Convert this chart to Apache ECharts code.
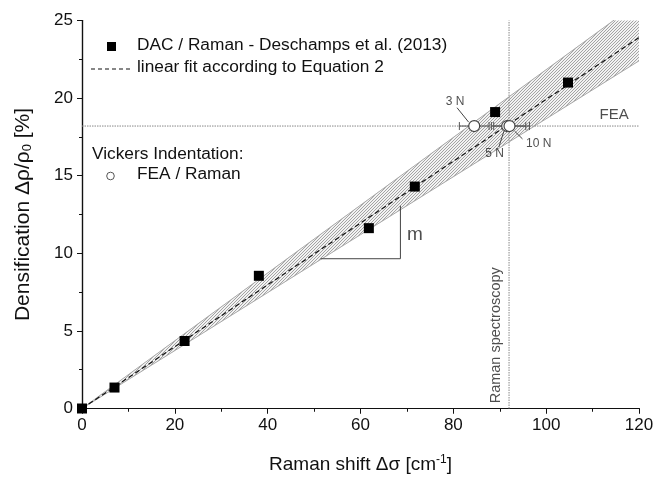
<!DOCTYPE html>
<html>
<head>
<meta charset="utf-8">
<script src="https://cdn.jsdelivr.net/npm/echarts@6/dist/echarts.min.js"></script>
<style>
  html, body { margin: 0; padding: 0; background: #fff; }
  #chart { width: 666px; height: 479px; }
</style>
</head>
<body>
<div id="chart"></div>
<script>
// DAC / Raman measurements (Raman shift [cm^-1], densification [%])
const dacPoints = [[0, 0], [7.0, 1.35], [22.1, 4.35], [38.1, 8.55], [61.8, 11.62], [71.7, 14.3], [89.0, 19.1], [104.7, 21.0]];

// Linear fit and its uncertainty band
const fitLine = [[0, 0], [120, 23.9]];
const bandLower = [[0, 0], [120, 22.4]];
const bandUpper = [[0, 0], [120, 26.2]];

// Vickers indentation: FEA densification vs. Raman shift, with horizontal error bars
const indentLoads = ['3 N', '5 N', '10 N'];
const indentShift = [84.5, 91.6, 92.1];
const indentShiftLow = [81.3, 88.2, 88.7];
const indentShiftHigh = [87.7, 95.6, 96.4];
const indentDensification = [18.2, 18.2, 18.2];

// Reference lines: FEA level and Raman spectroscopy shift
const feaLevel = 18.2;
const ramanShift = 92;

// Slope triangle
const slopeTriangle = [[51.4, 9.65], [68.6, 9.65], [68.6, 13.06]];

// Axis ranges / ticks
const xMin = 0, xMax = 120, xStep = 20;
const yMin = 0, yMax = 25, yStep = 5;

// Annotation texts and leader lines
const loadLabelPos = [[80.4, 19.8], [88.9, 16.4], [98.4, 17.07]];
const loadLeaders = [
  [[80.8, 19.38], [83.3, 18.45]],
  [[89.8, 16.84], [90.9, 17.87]],
  [[94.9, 17.37], [93.2, 17.87]]
];

const FONT = '"Liberation Sans", Arial, sans-serif';

// hatch pattern for the fit band
function makeHatch() {
  const c = document.createElement('canvas');
  c.width = 3; c.height = 3;
  const g = c.getContext('2d');
  g.fillStyle = '#f2f2f2';
  g.fillRect(0, 0, 3, 3);
  g.strokeStyle = '#9a9a9a';
  g.lineWidth = 0.9;
  g.beginPath();
  g.moveTo(-1, 4); g.lineTo(4, -1);
  g.moveTo(-1, 1); g.lineTo(1, -1);
  g.moveTo(2, 4); g.lineTo(4, 2);
  g.stroke();
  return c;
}
const hatch = makeHatch();

const chart = echarts.init(document.getElementById('chart'), null, { renderer: 'canvas' });

const indentData = indentShift.map((x, i) => [x, indentDensification[i], indentShiftLow[i], indentShiftHigh[i]]);

const axisCommon = {
  axisLine: { show: true, lineStyle: { color: '#111', width: 1.2 } },
  splitLine: { show: false }
};

const option = {
  animation: false,
  backgroundColor: '#fff',
  grid: { left: 82, right: 27, top: 20.5, bottom: 69, containLabel: false },
  xAxis: [
    Object.assign({}, axisCommon, {
      type: 'value', min: xMin, max: xMax, interval: xStep, position: 'bottom',
      axisTick: { show: true, inside: false, length: 5, lineStyle: { color: '#111' } },
      minorTick: { show: true, splitNumber: 2, length: 3, lineStyle: { color: '#111' } },
      axisLabel: { color: '#111', fontSize: 17, fontFamily: FONT, margin: 8 },
      name: '{n|Raman shift Δσ [cm}{s|-1}{n|]}',
      nameLocation: 'middle', nameGap: 45,
      nameTextStyle: {
        rich: {
          n: { fontSize: 19, fontFamily: FONT, color: '#111' },
          s: { fontSize: 12, fontFamily: FONT, color: '#111', verticalAlign: 'top', padding: [0, 0, 10, 0] }
        }
      }
    }),
    Object.assign({}, axisCommon, {
      type: 'value', min: xMin, max: xMax, interval: xStep, position: 'top',
      axisTick: { show: true, inside: true, length: 5, lineStyle: { color: '#111' } },
      minorTick: { show: true, splitNumber: 2, length: 3, lineStyle: { color: '#111' } },
      axisLabel: { show: false }
    })
  ],
  yAxis: [
    Object.assign({}, axisCommon, {
      type: 'value', min: yMin, max: yMax, interval: yStep, position: 'left',
      axisTick: { show: true, inside: false, length: 5, lineStyle: { color: '#111' } },
      minorTick: { show: true, splitNumber: 2, length: 3, lineStyle: { color: '#111' } },
      axisLabel: { color: '#111', fontSize: 17, fontFamily: FONT, margin: 9 },
      name: '{n|Densification Δρ/ρ}{s|0}{n| [%]}',
      nameLocation: 'middle', nameGap: 48,
      nameTextStyle: {
        rich: {
          n: { fontSize: 21, fontFamily: FONT, color: '#111' },
          s: { fontSize: 13, fontFamily: FONT, color: '#111', padding: [9, 0, 0, 0] }
        }
      }
    }),
    Object.assign({}, axisCommon, {
      type: 'value', min: yMin, max: yMax, interval: yStep, position: 'right',
      axisTick: { show: true, inside: true, length: 5, lineStyle: { color: '#111' } },
      minorTick: { show: true, splitNumber: 2, length: 3, lineStyle: { color: '#111' } },
      axisLabel: { show: false }
    })
  ],
  series: [
    // hatched uncertainty band
    {
      type: 'custom',
      clip: true,
      z: 1,
      data: [[0]],
      renderItem: function (params, api) {
        const pts = bandLower.map(p => api.coord(p))
          .concat(bandUpper.slice().reverse().map(p => api.coord(p)));
        return {
          type: 'polygon',
          shape: { points: pts },
          style: { fill: { image: hatch, repeat: 'repeat' }, stroke: null }
        };
      }
    },
    { type: 'line', data: bandLower, symbol: 'none', z: 2, lineStyle: { color: '#a8a8a8', width: 1 } },
    { type: 'line', data: bandUpper, symbol: 'none', z: 2, lineStyle: { color: '#a8a8a8', width: 1 } },
    // reference lines
    { type: 'line', data: [[xMin, feaLevel], [xMax, feaLevel]], symbol: 'none', z: 3,
      lineStyle: { color: '#888', width: 1, type: [1.5, 1] } },
    { type: 'line', data: [[ramanShift, yMin], [ramanShift, yMax]], symbol: 'none', z: 3,
      lineStyle: { color: '#888', width: 1, type: [1.5, 1] } },
    // linear fit
    { type: 'line', data: fitLine, symbol: 'none', z: 4,
      lineStyle: { color: '#111', width: 1.2, type: [5, 3] } },
    // slope triangle
    { type: 'line', data: slopeTriangle, symbol: 'none', z: 4,
      lineStyle: { color: '#444', width: 1 } },
    // error bars
    {
      type: 'custom', z: 5, data: indentData,
      renderItem: function (params, api) {
        const y = api.value(1);
        const a = api.coord([api.value(2), y]);
        const b = api.coord([api.value(3), y]);
        const h = 4;
        const st = { stroke: '#555', lineWidth: 1 };
        return {
          type: 'group',
          children: [
            { type: 'line', shape: { x1: a[0], y1: a[1], x2: b[0], y2: b[1] }, style: st },
            { type: 'line', shape: { x1: a[0], y1: a[1] - h, x2: a[0], y2: a[1] + h }, style: st },
            { type: 'line', shape: { x1: b[0], y1: b[1] - h, x2: b[0], y2: b[1] + h }, style: st }
          ]
        };
      }
    },
    // leader lines for load labels
    ...loadLeaders.map(seg => ({
      type: 'line', data: seg, symbol: 'none', z: 5,
      lineStyle: { color: '#444', width: 1 }
    })),
    // indentation points
    { type: 'scatter', z: 6, data: indentShift.map((x, i) => [x, indentDensification[i]]),
      symbol: 'circle', symbolSize: 11,
      itemStyle: { color: '#fff', borderColor: '#444', borderWidth: 1.2, opacity: 1 } },
    // DAC points
    { type: 'scatter', z: 7, data: dacPoints, symbol: 'rect', symbolSize: 10,
      itemStyle: { color: '#000', opacity: 1 } },
    // load labels
    { type: 'scatter', z: 8, symbolSize: 0, silent: true,
      data: loadLabelPos.map((p, i) => ({ value: p, name: indentLoads[i] })),
      label: { show: true, position: 'inside', formatter: '{b}', color: '#222', fontSize: 12, fontFamily: FONT } },
    // text annotations
    { type: 'scatter', z: 8, symbolSize: 0, silent: true,
      data: [
        { value: [70.0, 11.2], name: 'm', label: { align: 'left', fontSize: 19 } },
        { value: [111.5, 18.93], name: 'FEA', label: { align: 'left', fontSize: 15 } },
        { value: [89.1, 4.72], name: 'Raman spectroscopy', label: { rotate: 90, fontSize: 14.5 } }
      ],
      label: { show: true, position: 'inside', formatter: '{b}', color: '#222', fontFamily: FONT } }
  ],
  graphic: [
    // legend
    { type: 'rect', left: 107, top: 42, shape: { width: 9, height: 9 }, style: { fill: '#000' } },
    { type: 'text', left: 137, top: 37, style: { text: 'DAC / Raman - Deschamps et al. (2013)', font: '17.3px ' + FONT, fill: '#111' } },
    { type: 'line', shape: { x1: 91, y1: 69, x2: 131, y2: 69 }, style: { stroke: '#111', lineWidth: 1.1, lineDash: [4, 3] } },
    { type: 'text', left: 137, top: 59, style: { text: 'linear fit according to Equation 2', font: '17.3px ' + FONT, fill: '#111' } },
    { type: 'text', left: 92, top: 146, style: { text: 'Vickers Indentation:', font: '17.3px ' + FONT, fill: '#111' } },
    { type: 'circle', shape: { cx: 110.5, cy: 176, r: 3.8 }, style: { fill: '#fff', stroke: '#555', lineWidth: 1 } },
    { type: 'text', left: 137, top: 166, style: { text: 'FEA / Raman', font: '17.3px ' + FONT, fill: '#111' } }
  ]
};

chart.setOption(option);
</script>
</body>
</html>
